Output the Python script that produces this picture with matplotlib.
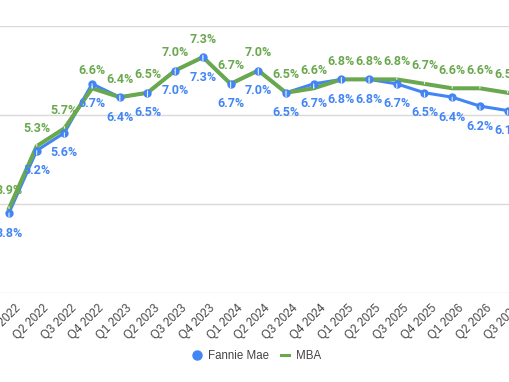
import matplotlib.pyplot as plt
import matplotlib.transforms as mtransforms
from matplotlib.lines import Line2D

quarters = ['Q1 2022', 'Q2 2022', 'Q3 2022', 'Q4 2022',
            'Q1 2023', 'Q2 2023', 'Q3 2023', 'Q4 2023',
            'Q1 2024', 'Q2 2024', 'Q3 2024', 'Q4 2024',
            'Q1 2025', 'Q2 2025', 'Q3 2025', 'Q4 2025',
            'Q1 2026', 'Q2 2026', 'Q3 2026', 'Q4 2026']
fannie_mae = [3.8, 5.2, 5.6, 6.7, 6.4, 6.5, 7.0, 7.3, 6.7, 7.0,
              6.5, 6.7, 6.8, 6.8, 6.7, 6.5, 6.4, 6.2, 6.1, 6.0]
mba = [3.9, 5.3, 5.7, 6.6, 6.4, 6.5, 7.0, 7.3, 6.7, 7.0,
       6.5, 6.6, 6.8, 6.8, 6.8, 6.7, 6.6, 6.6, 6.5, 6.4]

BLUE = '#4285f4'
GREEN = '#6aa84f'
W, H = 510, 382

fig = plt.figure(figsize=(W / 100, H / 100), dpi=100)
# original chart is wider than the picture, so the axes runs past both edges
px = 27.7
x0 = 9 - px
ax = fig.add_axes([x0 / W, 89 / H, 21 * px / W, 267 / H])
ax.set_xlim(-1, 20)
ax.set_ylim(2, 8)

x = list(range(len(quarters)))

ax.set_yticks([2, 4, 6, 8])
ax.yaxis.grid(True, color='#d9d9d9', lw=1)
ax.set_axisbelow(True)
ax.tick_params(axis='y', length=0, labelleft=False)
for s in ax.spines.values():
    s.set_visible(False)

ax.plot(x, fannie_mae, color=BLUE, lw=2.2, zorder=3, solid_joinstyle='round')
ax.plot(x, mba, color=GREEN, lw=2.9, zorder=4, solid_joinstyle='round')
ax.plot(x, fannie_mae, 'o', color=BLUE, ms=5, zorder=5)

lab_font = dict(family='Roboto', fontsize=9, fontweight='semibold')
for i in x:
    ax.annotate(f'{fannie_mae[i]:.1f}%', (i, fannie_mae[i]), xytext=(0, -14.5),
                textcoords='offset points', ha='center', va='center',
                color=BLUE, zorder=6, **lab_font,
                arrowprops=dict(arrowstyle='-', color='#ececec', lw=0.8,
                                shrinkA=5, shrinkB=3))
    ax.annotate(f'{mba[i]:.1f}%', (i, mba[i]), xytext=(0, 13),
                textcoords='offset points', ha='center', va='center',
                color=GREEN, zorder=6, **lab_font,
                arrowprops=dict(arrowstyle='-', color='#ececec', lw=0.8,
                                shrinkA=5, shrinkB=3))

ax.set_xticks(x)
ax.set_xticklabels(quarters, rotation=45, ha='right', va='top',
                   rotation_mode='anchor', fontsize=8.3,
                   family='Liberation Sans', color='#444444')
ax.tick_params(axis='x', length=0, pad=6.5)
shift = mtransforms.ScaledTranslation(6 / 100, 0, fig.dpi_scale_trans)
for lbl in ax.get_xticklabels():
    lbl.set_transform(lbl.get_transform() + shift)

handles = [Line2D([], [], color=BLUE, marker='o', ls='none', ms=6.5),
           Line2D([], [], color=GREEN, lw=2.2)]
fig.legend(handles, ['Fannie Mae', 'MBA'], loc='center',
           bbox_to_anchor=(257 / W, 1 - 356 / H), ncol=2, frameon=False,
           handlelength=0.7, handletextpad=0.6, columnspacing=1.0,
           prop={'family': 'Liberation Sans', 'size': 8.3},
           labelcolor='#444444')

fig.savefig('out.png', dpi=100)
